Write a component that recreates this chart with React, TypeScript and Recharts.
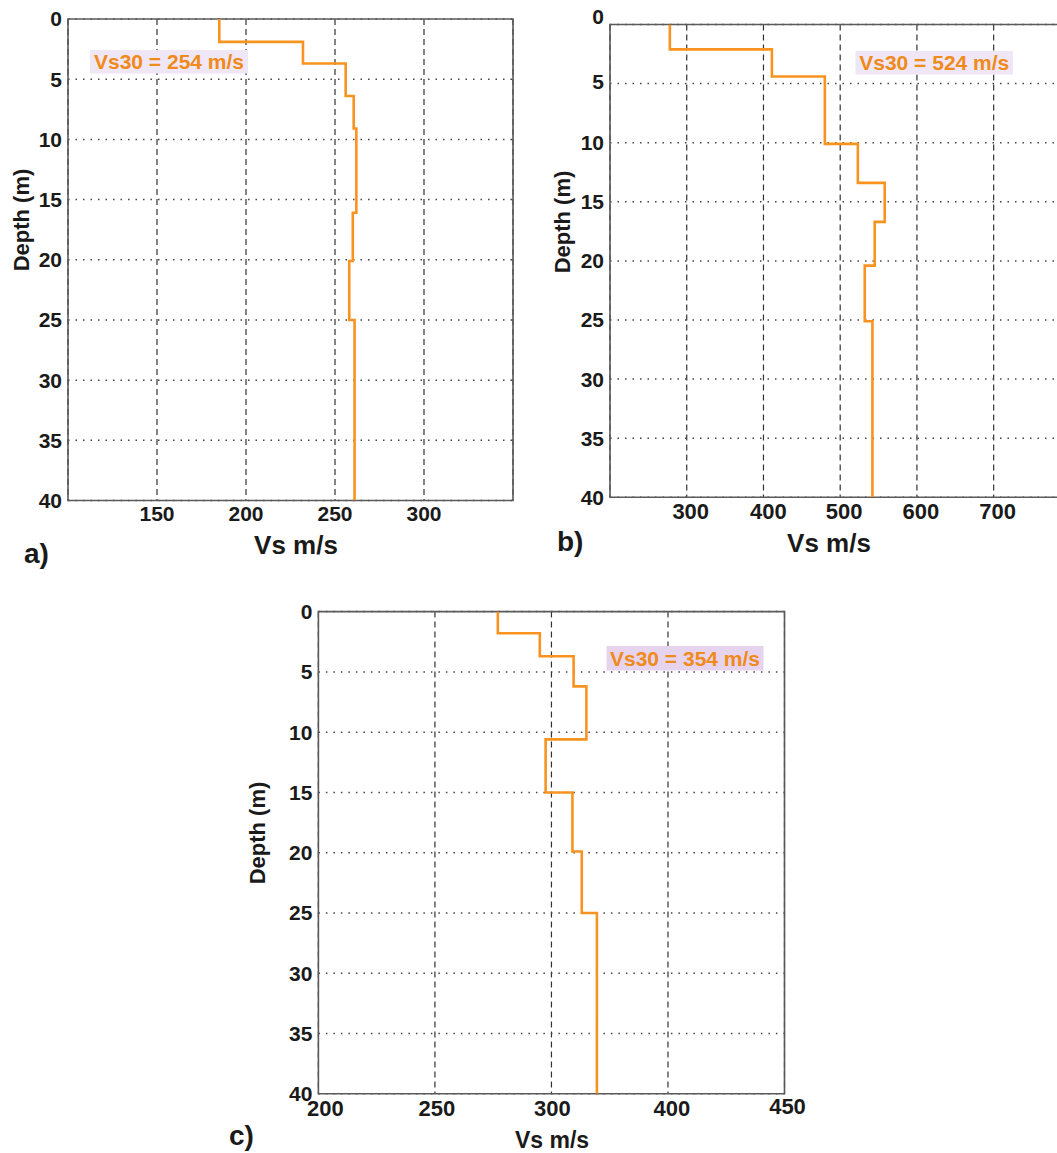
import React from "react";
import { ScatterChart, Scatter, XAxis, YAxis, CartesianGrid, ReferenceArea } from "recharts";

// layer tops (m) and shear-wave velocity of each layer (m/s)
const aLayerTops = [0, 1.9, 3.7, 6.4, 9.1, 16.1, 20.1, 25.0];
const aVs = [185, 232, 256, 260.5, 262, 260, 258, 261];
const bLayerTops = [0, 2.1, 4.4, 10.1, 13.4, 16.7, 20.4, 25.1];
const bVs = [278, 411, 480, 523, 558, 545, 532, 542];
const cLayerTops = [0, 1.8, 3.7, 6.2, 10.6, 15.0, 19.9, 25.0];
const cVs = [277, 295, 309.5, 315, 297.5, 309, 313, 319.5];
const maxDepth = 40;

const depthTicks = [0, 5, 10, 15, 20, 25, 30, 35, 40];
const aVsTicks = [150, 200, 250, 300];
const bVsTicks = [300, 400, 500, 600, 700];
const cVsTicks = [200, 250, 300, 350, 400];
// labels exactly as printed under panel c
const cVsTickLabels = ["200", "250", "300", "400", "450"];

const vs30Labels = ["Vs30 = 254 m/s", "Vs30 = 524 m/s", "Vs30 = 354 m/s"];
const panelLetters = ["a)", "b)", "c)"];

const FONT = '"Liberation Sans", Arial, Helvetica, sans-serif';
const ORANGE = "#f7931e";
const TEXT_ORANGE = "#f08a1a";
const INK = "#1a1a1a";

type Pt = { vs: number; depth: number };

// turn layer tops + velocities into the corner points of a step profile
const toSteps = (tops: number[], vs: number[]): Pt[] => {
  const pts: Pt[] = [];
  vs.forEach((v, i) => {
    const bottom = i < tops.length - 1 ? tops[i + 1] : maxDepth;
    pts.push({ vs: v, depth: tops[i] });
    pts.push({ vs: v, depth: bottom });
  });
  return pts;
};

// tick renderers with small per-tick nudges (the printed figure is not perfectly regular)
const xTick = (fontSize: number, fmt: (v: number) => string, dx: number[], dy: number[]) =>
  (props: any) => {
    const { x, y, payload, index } = props;
    return (
      <text
        x={x + (dx[index] ?? 0)}
        y={y + (dy[index] ?? 0)}
        dy="0.71em"
        textAnchor="middle"
        fill={INK}
        fontSize={fontSize}
        fontWeight="bold"
        fontFamily={FONT}
      >
        {fmt(payload.value)}
      </text>
    );
  };

const yTick = (dy: number[]) => (props: any) => {
  const { x, y, payload, index } = props;
  return (
    <text
      x={x}
      y={y + (dy[index] ?? 0)}
      dy="0.355em"
      textAnchor="end"
      fill={INK}
      fontSize={21}
      fontWeight="bold"
      fontFamily={FONT}
    >
      {payload.value}
    </text>
  );
};

interface ProfileProps {
  data: Pt[];
  domain: [number, number];
  ticks: number[];
  tickFormat?: (v: number) => string;
  left: number;
  top: number;
  plot: { L: number; T: number; R: number; B: number };
  fontSize: number;
  tickDx?: number[];
  tickDy?: number[];
  depthDy?: number[];
  height: number;
}

const Profile: React.FC<ProfileProps> = ({
  data, domain, ticks, tickFormat = (v) => String(v), left, top, plot, fontSize,
  tickDx = [], tickDy = [], depthDy = [], height,
}) => {
  const rightPad = 30;
  const width = plot.R - left + rightPad;
  return (
    <div style={{ position: "absolute", left, top }}>
      <ScatterChart
        width={width}
        height={height}
        margin={{ top: plot.T - top, right: rightPad, bottom: 0, left: 0 }}
      >
        <CartesianGrid horizontal={false} stroke="#333" strokeWidth={1.2} strokeDasharray="6 4" />
        <CartesianGrid vertical={false} stroke="#444" strokeWidth={1.5} strokeDasharray="1.5 6" />
        <XAxis
          type="number"
          dataKey="vs"
          domain={domain}
          ticks={ticks}
          interval={0}
          allowDataOverflow
          axisLine={false}
          tickLine={false}
          tickSize={0}
          tickMargin={6}
          height={top + height - plot.B}
          tick={xTick(fontSize, tickFormat, tickDx, tickDy)}
        />
        <YAxis
          type="number"
          dataKey="depth"
          domain={[0, maxDepth]}
          ticks={depthTicks}
          interval={0}
          reversed
          allowDataOverflow
          axisLine={false}
          tickLine={false}
          tickSize={0}
          tickMargin={6}
          width={plot.L - left}
          tick={yTick(depthDy)}
        />
        <ReferenceArea
          x1={domain[0]}
          x2={domain[1]}
          y1={0}
          y2={maxDepth}
          fill="none"
          stroke="#5a5a5a"
          strokeWidth={1.6}
        />
        <Scatter
          data={data}
          fill={ORANGE}
          line={{ stroke: ORANGE, strokeWidth: 2.6 }}
          shape={() => <g />}
          isAnimationActive={false}
        />
      </ScatterChart>
    </div>
  );
};

const Vs30Box: React.FC<{ x: number; y: number; w: number; h: number; fill: string; text: string }> = ({ x, y, w, h, fill, text }) => (
  <g>
    <rect x={x} y={y} width={w} height={h} fill={fill} />
    <text
      x={x + w / 2}
      y={y + h - 5}
      textAnchor="middle"
      fontFamily={FONT}
      fontWeight="bold"
      fontSize={21}
      fill={TEXT_ORANGE}
    >
      {text}
    </text>
  </g>
);

const App: React.FC = () => {
  const txt = { fontFamily: FONT, fontWeight: "bold" as const, fill: INK };
  return (
    <div
      style={{
        position: "absolute",
        left: 0,
        top: 0,
        width: 1057,
        height: 1153,
        overflow: "hidden",
        background: "#fff",
      }}
    >
      <Profile
        data={toSteps(aLayerTops, aVs)}
        domain={[100, 350]}
        ticks={aVsTicks}
        left={0}
        top={0}
        height={540}
        plot={{ L: 68, T: 19, R: 513, B: 500.5 }}
        fontSize={21}
      />
      <Profile
        data={toSteps(bLayerTops, bVs)}
        domain={[200, 800]}
        ticks={bVsTicks}
        left={560}
        top={0}
        height={540}
        plot={{ L: 610, T: 24.5, R: 1070.4, B: 497.3 }}
        fontSize={22}
        tickDx={[4, 5, 4, 4, 4]}
        depthDy={[-8, -2]}
      />
      <Profile
        data={toSteps(cLayerTops, cVs)}
        domain={[200, 400]}
        ticks={cVsTicks}
        tickFormat={(v) => cVsTickLabels[cVsTicks.indexOf(v)] ?? String(v)}
        left={270}
        top={590}
        height={550}
        plot={{ L: 318.4, T: 611.6, R: 784.5, B: 1093.8 }}
        fontSize={22}
        tickDx={[7, 2, 1, 4, 3]}
        tickDy={[1, 1, 1, 1, -1]}
      />

      <svg
        width={1057}
        height={1153}
        style={{ position: "absolute", left: 0, top: 0, pointerEvents: "none" }}
      >
        {/* axis titles */}
        <text x={296} y={554} textAnchor="middle" fontSize={26} {...txt}>Vs m/s</text>
        <text x={829} y={552} textAnchor="middle" fontSize={26} {...txt}>Vs m/s</text>
        <text x={552} y={1148} textAnchor="middle" fontSize={23} {...txt}>Vs m/s</text>

        <text transform="translate(29,220) rotate(-90)" textAnchor="middle" fontSize={22} {...txt}>Depth (m)</text>
        <text transform="translate(570,222) rotate(-90)" textAnchor="middle" fontSize={22} {...txt}>Depth (m)</text>
        <text transform="translate(265,833) rotate(-90)" textAnchor="middle" fontSize={22} {...txt}>Depth (m)</text>

        {/* panel letters */}
        <text x={24} y={563} fontSize={28} {...txt}>{panelLetters[0]}</text>
        <text x={557} y={551} fontSize={28} {...txt}>{panelLetters[1]}</text>
        <text x={229} y={1145} fontSize={28} {...txt}>{panelLetters[2]}</text>

        {/* Vs30 annotations */}
        <Vs30Box x={90} y={50} w={158} h={23.5} fill="#efe6f6" text={vs30Labels[0]} />
        <Vs30Box x={855.5} y={51} w={157.5} h={23.5} fill="#efe6f6" text={vs30Labels[1]} />
        <Vs30Box x={606.5} y={646} w={157} h={24.5} fill="#e6d4ee" text={vs30Labels[2]} />
      </svg>
    </div>
  );
};

export default App;
